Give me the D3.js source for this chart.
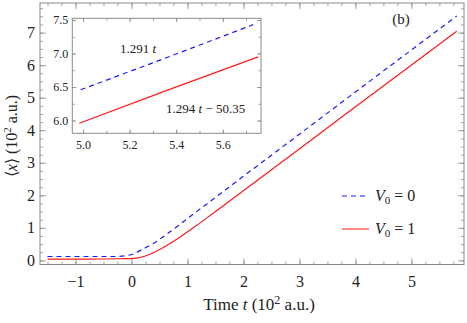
<!DOCTYPE html>
<html>
<head>
<meta charset="utf-8">
<script src="https://cdn.jsdelivr.net/npm/d3@7"></script>
<style>
  body { margin: 0; background: #fff; }
  svg { display: block; }
</style>
</head>
<body>
<svg id="chart" width="467" height="323"></svg>
<script>
// main panel (t in 10^2 a.u., <x> in 10^2 a.u.)
const blueT = [-1.5, -0.8, -0.3, -0.1, 0.05, 0.15, 0.39, 0.69, 0.99, 1.28, 1.58, 1.91, 2.8, 3.78, 5.81];
const blueX = [0.12, 0.12, 0.12, 0.145, 0.21, 0.30, 0.52, 0.88, 1.27, 1.65, 2.04, 2.47, 3.62, 4.89, 7.51];
const redT = [-1.5, -0.8, -0.2, 0.05, 0.15, 0.33, 0.57, 0.87, 1.16, 1.46, 1.76, 2.8, 3.78, 5.81];
const redX = [0.04, 0.04, 0.05, 0.06, 0.09, 0.19, 0.40, 0.72, 1.07, 1.45, 1.83, 3.17, 4.44, 7.04];

// inset, zoom on the late-time linear part
const insetBlueT = [4.99, 5.36, 5.73];
const insetBlueX = [6.46, 6.94, 7.43];
const insetRedT = [4.984, 5.36, 5.752];
const insetRedX = [5.96, 6.45, 6.95];

const xTicks = [-1, 0, 1, 2, 3, 4, 5];
const yTicks = [0, 1, 2, 3, 4, 5, 6, 7];
const insetXTicks = [5.0, 5.2, 5.4, 5.6];
const insetYTicks = [6.0, 6.5, 7.0, 7.5];

const seriesNames = ["0", "1"];

const svg = d3.select("#chart");
const SERIF = "'Liberation Serif', 'Times New Roman', serif";
const FRAME = "#8a8a8a";
const BLUE = "#1a1aff";
const RED = "#ff1a1a";
const INK = "#222";

const translate = (x, y) => "translate(" + x + "," + y + ")";
const fmtMinus = d => (d < 0 ? "\u2212" + Math.abs(d) : String(d));
const range = (a, b, s) => d3.range(Math.round((b - a) / s) + 1).map(i => +(a + i * s).toFixed(4));

const label = (parent, px) => parent.append("text")
    .style("font-family", SERIF).style("font-size", px + "px").attr("fill", INK);

// closed frame with inward ticks on all four sides, labels only bottom and left
const frame = (g, x, y, major, minor, fmtX, fmtY, opts) => {
    const [x0, x1] = x.range();
    const [y1, y0] = y.range();
    const axes = [
        [d3.axisBottom, x, translate(0, y1), true, major[0], minor[0], fmtX, opts.padX],
        [d3.axisTop, x, translate(0, y0), false, major[0], minor[0], fmtX, 0],
        [d3.axisLeft, y, translate(x0, 0), true, major[1], minor[1], fmtY, opts.padY],
        [d3.axisRight, y, translate(x1, 0), false, major[1], minor[1], fmtY, 0]
    ];
    axes.forEach(([fn, sc, tr, labels, maj, min, fmt, pad]) => {
        const minorG = g.append("g").attr("transform", tr)
            .call(fn(sc).tickValues(min).tickSize(-opts.minor).tickFormat(""));
        const majorG = g.append("g").attr("transform", tr)
            .call(fn(sc).tickValues(maj).tickSize(-opts.major).tickPadding(pad)
                .tickFormat(labels ? fmt : ""));
        [minorG, majorG].forEach(a => {
            a.select(".domain").remove();
            a.selectAll("line").attr("stroke", FRAME).attr("stroke-width", 0.8);
            a.selectAll("text")
                .style("font-family", SERIF)
                .style("font-size", opts.font + "px")
                .attr("fill", INK);
        });
    });
    g.append("rect")
        .attr("x", x0).attr("y", y0)
        .attr("width", x1 - x0).attr("height", y1 - y0)
        .attr("fill", "none").attr("stroke", FRAME).attr("stroke-width", 1);
};

const drawLine = (g, x, y, ts, vs, color, dashed) => {
    g.append("path")
        .datum(ts.map((t, i) => [t, vs[i]]))
        .attr("fill", "none")
        .attr("stroke", color)
        .attr("stroke-width", 1.2)
        .attr("stroke-dasharray", dashed ? "5,4" : null)
        .attr("d", d3.line().x(d => x(d[0])).y(d => y(d[1])).curve(d3.curveMonotoneX));
};

// main panel
const x = d3.scaleLinear().domain([-1.634, 5.94]).range([40, 464]);
const y = d3.scaleLinear().domain([-0.126, 7.91]).range([264.5, 3]);

const mainG = svg.append("g").attr("class", "mainG");
frame(mainG, x, y, [xTicks, yTicks], [range(-1.5, 5.75, 0.25), range(0, 7.75, 0.25)],
    fmtMinus, d => d, {major: 6, minor: 3, padX: 11, padY: 5, font: 16});

const plotG = svg.append("g").attr("class", "plotG");
drawLine(plotG, x, y, blueT, blueX, BLUE, true);
drawLine(plotG, x, y, redT, redX, RED, false);

// panel tag
label(svg, 15).attr("x", 401).attr("y", 24).attr("text-anchor", "middle").text("(b)");

// legend
const legendG = svg.append("g").attr("class", "legendG");
seriesNames.forEach((name, i) => {
    const ly = 196 + i * 33;
    legendG.append("line")
        .attr("x1", 342).attr("x2", 369).attr("y1", ly).attr("y2", ly)
        .attr("stroke", i === 0 ? BLUE : "#ff7a7a")
        .attr("stroke-width", i === 0 ? 1.2 : 1.8)
        .attr("stroke-dasharray", i === 0 ? "5,4" : null);
    const t = label(legendG, 16).attr("x", 375).attr("y", ly + 5);
    t.append("tspan").style("font-style", "italic").text("V");
    t.append("tspan").attr("dy", 3).style("font-size", "11px").text("0");
    t.append("tspan").attr("dy", -3).text(" = " + name);
});

// axis titles
const xt = label(svg, 17).attr("x", 259).attr("y", 310).attr("text-anchor", "middle");
xt.append("tspan").text("Time ");
xt.append("tspan").style("font-style", "italic").text("t");
xt.append("tspan").text(" (10");
xt.append("tspan").attr("dy", -6).style("font-size", "12px").text("2");
xt.append("tspan").attr("dy", 6).text(" a.u.)");

const yt = label(svg, 16).attr("transform", translate(17, 136) + " rotate(-90)")
    .attr("text-anchor", "middle");
yt.append("tspan").text("\u27e8");
yt.append("tspan").style("font-style", "italic").text("x");
yt.append("tspan").text("\u27e9 (10");
yt.append("tspan").attr("dy", -6).style("font-size", "11px").text("2");
yt.append("tspan").attr("dy", 6).text(" a.u.)");

// inset
const ix = d3.scaleLinear().domain([4.954, 5.764]).range([72.3, 261]);
const iy = d3.scaleLinear().domain([5.81, 7.525]).range([133.3, 18.3]);

const insetG = svg.append("g").attr("class", "insetG");
insetG.append("rect").attr("x", 72.3).attr("y", 18.3).attr("width", 188.7).attr("height", 115)
    .attr("fill", "#fff");
frame(insetG, ix, iy, [insetXTicks, insetYTicks], [range(5.0, 5.7, 0.1), range(6.0, 7.5, 0.25)],
    d => d.toFixed(1), d => d.toFixed(1), {major: 4, minor: 2.5, padX: 7, padY: 4, font: 12});

drawLine(insetG, ix, iy, insetBlueT, insetBlueX, BLUE, true);
drawLine(insetG, ix, iy, insetRedT, insetRedX, RED, false);

const l1 = label(insetG, 13).attr("x", 120).attr("y", 53);
l1.append("tspan").text("1.291 ");
l1.append("tspan").style("font-style", "italic").text("t");

const l2 = label(insetG, 13).attr("x", 166).attr("y", 113);
l2.append("tspan").text("1.294 ");
l2.append("tspan").style("font-style", "italic").text("t");
l2.append("tspan").text(" \u2212 50.35");
</script>
</body>
</html>
